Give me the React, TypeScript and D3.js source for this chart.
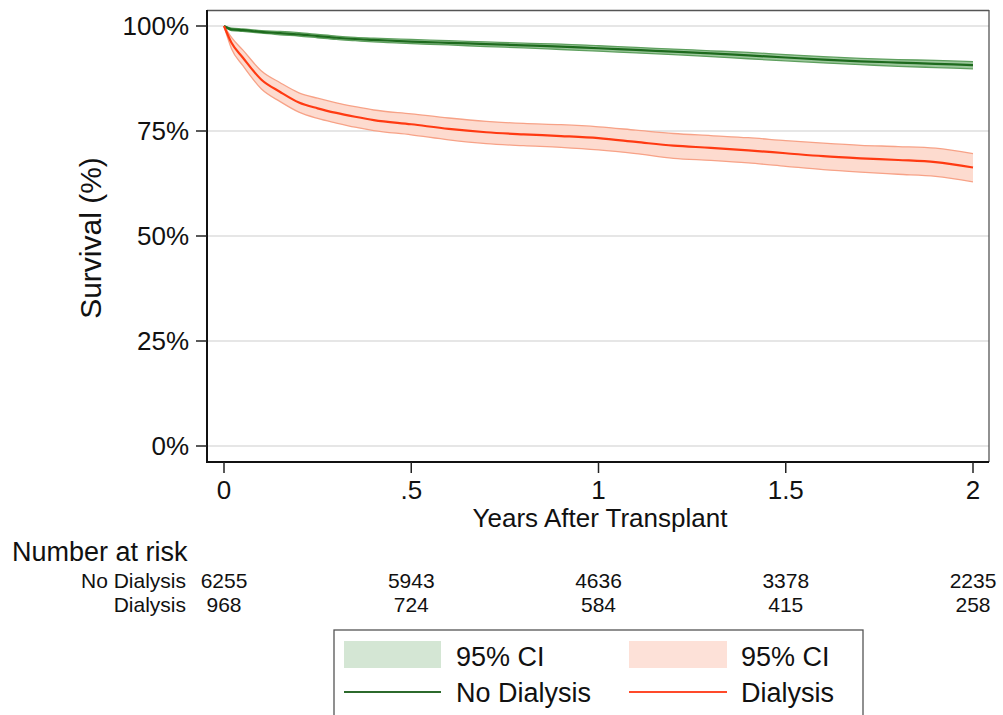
import React from "react";
import * as d3 from "d3";

// years after transplant
const times = [0, 0.02, 0.05, 0.1, 0.15, 0.2, 0.25, 0.3, 0.35, 0.4, 0.5, 0.6, 0.7, 0.8, 0.9, 1.0, 1.1, 1.2, 1.3, 1.4, 1.5, 1.6, 1.7, 1.8, 1.9, 2.0];

// survival (%)
const noDialysis = [100, 99.2, 99.0, 98.6, 98.3, 98.0, 97.6, 97.2, 96.9, 96.7, 96.3, 96.0, 95.7, 95.4, 95.1, 94.7, 94.3, 93.9, 93.5, 93.0, 92.5, 92.0, 91.6, 91.3, 91.0, 90.7];
const noDialysisLo = [100, 98.9, 98.7, 98.3, 97.9, 97.6, 97.2, 96.8, 96.5, 96.2, 95.8, 95.5, 95.1, 94.8, 94.4, 94.0, 93.6, 93.2, 92.7, 92.2, 91.7, 91.2, 90.8, 90.4, 90.1, 89.8];
const noDialysisHi = [100, 99.5, 99.3, 98.9, 98.7, 98.4, 98.0, 97.6, 97.3, 97.1, 96.8, 96.5, 96.2, 95.9, 95.7, 95.3, 94.9, 94.5, 94.1, 93.7, 93.2, 92.7, 92.3, 92.0, 91.8, 91.5];

const dialysis = [100, 96.0, 92.5, 87.2, 84.3, 81.8, 80.4, 79.3, 78.4, 77.6, 76.6, 75.5, 74.7, 74.2, 73.8, 73.3, 72.4, 71.5, 71.0, 70.4, 69.7, 69.0, 68.5, 68.1, 67.6, 66.3];
const dialysisLo = [100, 94.6, 90.6, 85.0, 82.0, 79.5, 78.0, 76.9, 75.9, 75.1, 74.1, 72.9, 72.0, 71.5, 71.1, 70.5, 69.6, 68.5, 68.0, 67.4, 66.6, 65.8, 65.2, 64.7, 64.2, 62.9];
const dialysisHi = [100, 97.3, 94.3, 89.3, 86.5, 84.1, 82.8, 81.7, 80.8, 80.0, 79.1, 78.1, 77.3, 76.8, 76.5, 76.0, 75.2, 74.4, 73.9, 73.4, 72.7, 72.1, 71.6, 71.3, 70.9, 69.6];

const xTicks = [0, 0.5, 1, 1.5, 2];
const xTickLabels = ["0", ".5", "1", "1.5", "2"];
const yTicks = [0, 25, 50, 75, 100];

const riskGroups = ["No Dialysis", "Dialysis"];
const riskNoDialysis = [6255, 5943, 4636, 3378, 2235];
const riskDialysis = [968, 724, 584, 415, 258];

const W = 1003;
const H = 715;
const font = "'Liberation Sans', Arial, Helvetica, sans-serif";

const App = () => {
  const x = d3.scaleLinear().domain([0, 2]).range([224, 973]);
  const y = d3.scaleLinear().domain([0, 100]).range([446, 26]);

  const line = d3
    .line<number>()
    .x((_, i) => x(times[i]))
    .y((d) => y(d))
    .curve(d3.curveMonotoneX);

  const band = (lo: number[], hi: number[]) =>
    d3
      .area<number>()
      .x((_, i) => x(times[i]))
      .y0((_, i) => y(lo[i]))
      .y1((_, i) => y(hi[i]))
      .curve(d3.curveMonotoneX)(times as number[]) as string;

  const series = [
    { lo: noDialysisLo, hi: noDialysisHi, mid: noDialysis, fill: "#9cc79c", edge: "#5e9f5e", stroke: "#1d6a1d" },
    { lo: dialysisLo, hi: dialysisHi, mid: dialysis, fill: "#fddbcf", edge: "#f7a287", stroke: "#ff3a12" },
  ];

  const riskRows = [riskNoDialysis, riskDialysis];

  return (
    <svg
      width={W}
      height={H}
      style={{ position: "absolute", left: 0, top: 0, background: "#fff" }}
      fontFamily={font}
    >
      <rect x={0} y={0} width={W} height={H} fill="#fff" />

      {/* grid */}
      {yTicks.map((t) => (
        <line key={t} x1={207} x2={989} y1={y(t)} y2={y(t)} stroke="#dedede" strokeWidth={1.5} />
      ))}

      {/* bands and lines */}
      {series.map((s, i) => (
        <g key={i}>
          <path d={band(s.lo, s.hi)} fill={s.fill} stroke="none" />
          <path d={line(s.lo) as string} fill="none" stroke={s.edge} strokeWidth={1.3} />
          <path d={line(s.hi) as string} fill="none" stroke={s.edge} strokeWidth={1.3} />
        </g>
      ))}
      {series.map((s, i) => (
        <path key={i} d={line(s.mid) as string} fill="none" stroke={s.stroke} strokeWidth={2.2} />
      ))}

      {/* frame */}
      <line x1={207} x2={989} y1={10.5} y2={10.5} stroke="#555" strokeWidth={1.3} />
      <line x1={989} x2={989} y1={10} y2={462} stroke="#555" strokeWidth={1.3} />
      <line x1={207} x2={207} y1={10} y2={462} stroke="#111" strokeWidth={2} />
      <line x1={206} x2={989} y1={462} y2={462} stroke="#111" strokeWidth={2} />

      {/* y axis */}
      {yTicks.map((t) => (
        <g key={t}>
          <line x1={196} x2={207} y1={y(t)} y2={y(t)} stroke="#222" strokeWidth={1.5} />
          <text x={189} y={y(t)} dy="0.36em" textAnchor="end" fontSize={26} fill="#111">
            {t}%
          </text>
        </g>
      ))}
      <text
        transform={`translate(101, 238) rotate(-90)`}
        textAnchor="middle"
        fontSize={30}
        fill="#111"
      >
        Survival (%)
      </text>

      {/* x axis */}
      {xTicks.map((t, i) => (
        <g key={t}>
          <line x1={x(t)} x2={x(t)} y1={462} y2={473} stroke="#222" strokeWidth={1.5} />
          <text x={x(t)} y={499} textAnchor="middle" fontSize={26} fill="#111">
            {xTickLabels[i]}
          </text>
        </g>
      ))}
      <text x={600} y={527} textAnchor="middle" fontSize={26} fill="#111">
        Years After Transplant
      </text>

      {/* number at risk */}
      <text x={12} y={561} fontSize={27} fill="#111">
        Number at risk
      </text>
      {riskRows.map((row, r) => (
        <g key={r}>
          <text x={186} y={588 + r * 24} textAnchor="end" fontSize={21} fill="#111">
            {riskGroups[r]}
          </text>
          {row.map((v, i) => (
            <text key={i} x={x(xTicks[i])} y={588 + r * 24} textAnchor="middle" fontSize={21} fill="#111">
              {v}
            </text>
          ))}
        </g>
      ))}

      {/* legend */}
      <rect x={334} y={630} width={529} height={100} fill="#fff" stroke="#555" strokeWidth={1.3} />
      <rect x={344} y={641} width={97} height={27} fill="#d4e6d4" />
      <text x={456} y={666} fontSize={27} fill="#111">95% CI</text>
      <rect x={629} y={641} width={98} height={27} fill="#fde1d8" />
      <text x={741} y={666} fontSize={27} fill="#111">95% CI</text>
      <line x1={344} x2={441} y1={692} y2={692} stroke="#2c6a2c" strokeWidth={2} />
      <text x={456} y={702} fontSize={27} fill="#111">No Dialysis</text>
      <line x1={629} x2={727} y1={692} y2={692} stroke="#ff4a2a" strokeWidth={2} />
      <text x={741} y={702} fontSize={27} fill="#111">Dialysis</text>
    </svg>
  );
};

export default App;
